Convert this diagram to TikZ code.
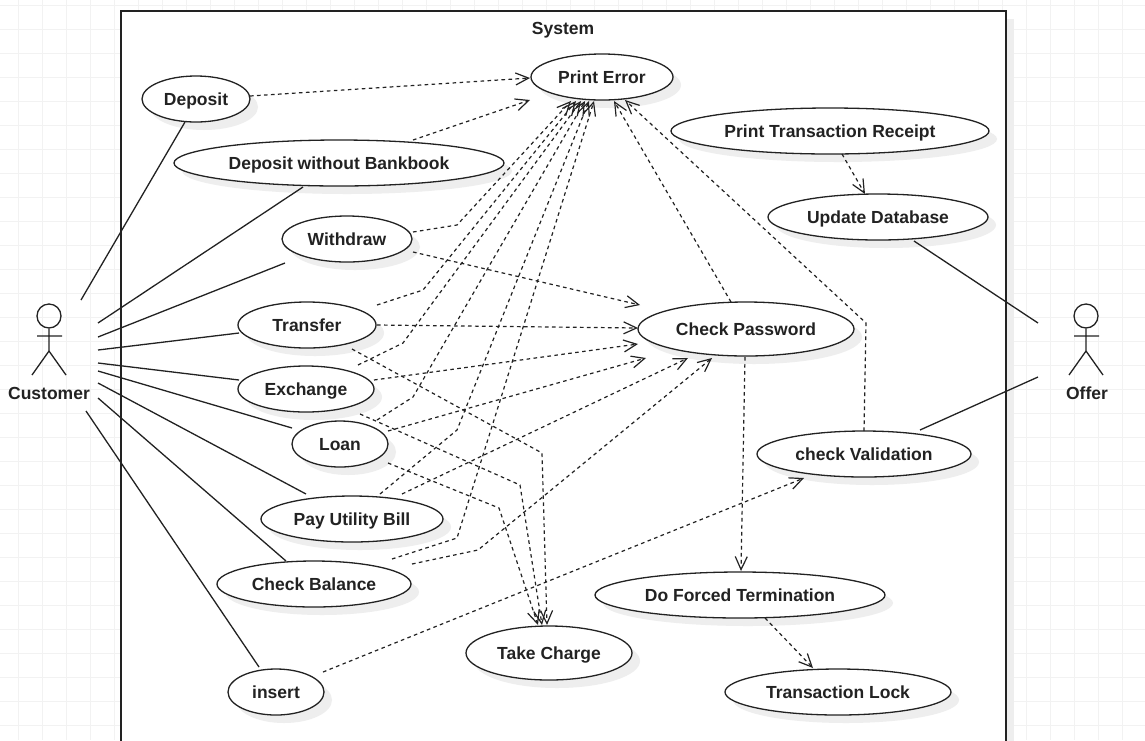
\documentclass[tikz,border=0pt]{standalone}
\usepackage{fontspec}
\setmainfont{Liberation Sans}
\usetikzlibrary{shapes.geometric,arrows.meta,calc,shadows}
\definecolor{ink}{HTML}{222222}
\definecolor{gridc}{HTML}{F2F2F2}
\definecolor{shadowc}{HTML}{EEEEEE}
\tikzset{
  usecase/.style={ellipse,draw=ink,line width=1.3pt,fill=white,inner sep=0pt,
    minimum width=#1,font=\fontsize{17.5}{20}\selectfont\bfseries,text=ink,
    text height=12.5pt,text depth=0pt,
    general shadow={fill=shadowc,shadow xshift=8pt,shadow yshift=-8pt}},
  usecase/.default=100pt,
  tall/.style={minimum height=54pt},
  short/.style={minimum height=46pt},
  assoc/.style={draw=ink,line width=1.3pt},
  dep/.style={draw=ink,line width=1.2pt,dash pattern=on 3.6pt off 3.4pt,
    -{Straight Barb[length=13pt,width=12pt,line width=1.2pt,sep=0pt]}},
  actorline/.style={draw=ink,line width=1.3pt},
  caption/.style={font=\fontsize{17.5}{20}\selectfont\bfseries,text=ink,inner sep=0pt,
    text height=12.5pt,text depth=0pt}
}
\begin{document}
\begin{tikzpicture}[x=1pt,y=-1pt]
\useasboundingbox (0,0) rectangle (1145,740);
\clip (0,0) rectangle (1145,740);
% background grid
\foreach \gx in {18,42,...,1140} {\draw[gridc,line width=0.8pt] (\gx,0) -- (\gx,740);}
\foreach \gy in {5,29,...,740} {\draw[gridc,line width=0.8pt] (0,\gy) -- (1145,\gy);}
% system frame
\fill[shadowc] (129,19) rectangle (1014,745);
\fill[white] (121,11) rectangle (1006,745);
\draw[ink,line width=1.4pt] (121,745) -- (121,11) -- (1006,11) -- (1006,745);
\node[caption] (system) at (563,28) {System};
% use cases
\node[usecase=142pt,short] (printerror) at (602,77) {Print Error};
\node[usecase=108pt,short] (deposit) at (196,99) {Deposit};
\node[usecase=330pt,short] (dwb) at (339,163) {Deposit without Bankbook};
\node[usecase=318pt,short] (ptr) at (830,131) {Print Transaction Receipt};
\node[usecase=220pt,short] (update) at (878,217) {Update Database};
\node[usecase=130pt,short] (withdraw) at (347,239) {Withdraw};
\node[usecase=138pt,short] (transfer) at (307,325) {Transfer};
\node[usecase=216pt,tall] (checkpw) at (746,329) {Check Password};
\node[usecase=136pt,short] (exchange) at (306,389) {Exchange};
\node[usecase=96pt,short] (loan) at (340,444) {Loan};
\node[usecase=214pt,short] (validation) at (864,454) {check Validation};
\node[usecase=182pt,short] (utility) at (352,519) {Pay Utility Bill};
\node[usecase=194pt,short] (balance) at (314,584) {Check Balance};
\node[usecase=290pt,short] (forced) at (740,595) {Do Forced Termination};
\node[usecase=166pt,tall] (charge) at (549,653) {Take Charge};
\node[usecase=96pt,short] (insert) at (276,692) {insert};
\node[usecase=226pt,short] (lock) at (838,692) {Transaction Lock};
% actors
\coordinate (customer) at (49,345);
\coordinate (offer) at (1087,345);
\node[circle,draw=ink,line width=1.3pt,minimum size=24pt,inner sep=0pt] (customerhead) at (49,316) {};
\draw[actorline] (customerhead.south) -- (49,351) (37,336) -- (62,336) (32,375) -- (49,351) -- (66,375);
\node[caption] (customerlabel) at (49,393) {Customer};
\node[circle,draw=ink,line width=1.3pt,minimum size=24pt,inner sep=0pt] (offerhead) at (1086,316) {};
\draw[actorline] (offerhead.south) -- (1086,351) (1074,336) -- (1099,336) (1069,375) -- (1086,351) -- (1103,375);
\node[caption] (offerlabel) at (1087,393) {Offer};
% associations
\draw[assoc] ($(customer)+(32,-45)$) -- ($(deposit)+(-11,23)$);
\draw[assoc] ($(customer)+(49,-22)$) -- ($(dwb)+(-36,24)$);
\draw[assoc] ($(customer)+(49,-8)$) -- ($(withdraw)+(-62,24)$);
\draw[assoc] ($(customer)+(49,5)$) -- ($(transfer)+(-68,8)$);
\draw[assoc] ($(customer)+(49,18)$) -- ($(exchange)+(-67,-9)$);
\draw[assoc] ($(customer)+(49,26)$) -- ($(loan)+(-48,-16)$);
\draw[assoc] ($(customer)+(49,38)$) -- ($(utility)+(-46,-25)$);
\draw[assoc] ($(customer)+(49,53)$) -- ($(balance)+(-28,-23)$);
\draw[assoc] ($(customer)+(37,66)$) -- ($(insert)+(-17,-25)$);
\draw[assoc] ($(update)+(36,24)$) -- ($(offer)+(-49,-22)$);
\draw[assoc] ($(validation)+(56,-24)$) -- ($(offer)+(-49,32)$);
% dependencies to Print Error
\draw[dep] ($(deposit)+(54,-3)$) -- ($(printerror)+(-72,1)$);
\draw[dep] ($(dwb)+(74,-23)$) -- ($(printerror)+(-72,23)$);
\draw[dep] ($(withdraw)+(66,-7)$) -- (457,225) -- ($(printerror)+(-31,24)$);
\draw[dep] ($(transfer)+(70,-20)$) -- (423,290) -- ($(printerror)+(-26,24)$);
\draw[dep] ($(exchange)+(52,-24)$) -- (403,343) -- ($(printerror)+(-21,24)$);
\draw[dep] ($(loan)+(37,-24)$) -- (413,397) -- ($(printerror)+(-17,24)$);
\draw[dep] ($(utility)+(28,-25)$) -- (457,430) -- ($(printerror)+(-13,24)$);
\draw[dep] ($(balance)+(78,-25)$) -- (457,538) -- ($(printerror)+(-8,24)$);
\draw[dep] ($(checkpw)+(-15,-27)$) -- ($(printerror)+(12,24)$);
\draw[dep] ($(validation)+(0,-23)$) -- (866,323) -- ($(printerror)+(23,23)$);
% dependencies to Check Password
\draw[dep] ($(withdraw)+(66,13)$) -- ($(checkpw)+(-106,-24)$);
\draw[dep] ($(transfer)+(70,0)$) -- ($(checkpw)+(-108,-1)$);
\draw[dep] ($(exchange)+(68,-9)$) -- ($(checkpw)+(-108,15)$);
\draw[dep] ($(loan)+(48,-13)$) -- ($(checkpw)+(-100,29)$);
\draw[dep] ($(utility)+(50,-25)$) -- ($(checkpw)+(-58,29)$);
\draw[dep] ($(balance)+(98,-20)$) -- (478,550) -- ($(checkpw)+(-34,29)$);
% dependencies to Take Charge
\draw[dep] ($(transfer)+(45,24)$) -- (542,453) -- ($(charge)+(-2,-28)$);
\draw[dep] ($(exchange)+(54,25)$) -- (520,485) -- ($(charge)+(-7,-28)$);
\draw[dep] ($(loan)+(48,19)$) -- (499,508) -- ($(charge)+(-11,-28)$);
% remaining dependencies
\draw[dep] ($(ptr)+(12,23)$) -- ($(update)+(-13,-23)$);
\draw[dep] ($(checkpw)+(-1,28)$) -- ($(forced)+(1,-24)$);
\draw[dep] ($(forced)+(25,23)$) -- ($(lock)+(-25,-24)$);
\draw[dep] ($(insert)+(47,-20)$) -- ($(validation)+(-60,24)$);
\end{tikzpicture}
\end{document}
